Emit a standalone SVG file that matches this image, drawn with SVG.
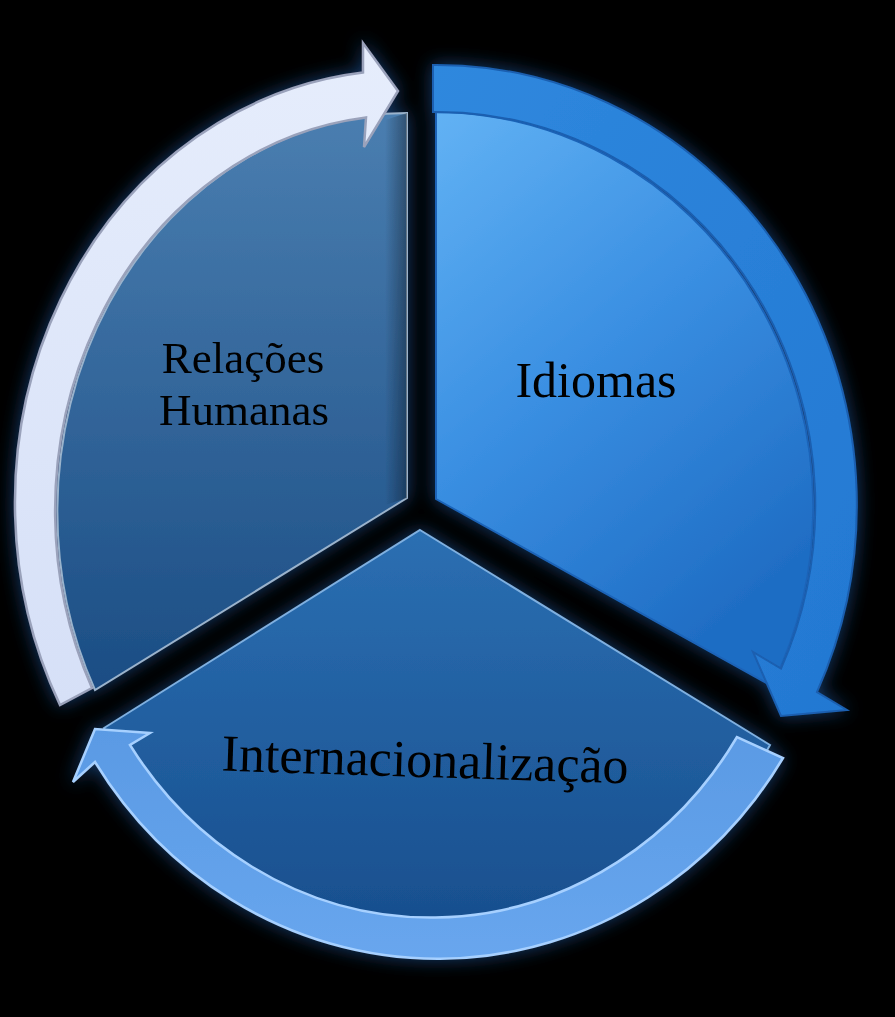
<svg xmlns="http://www.w3.org/2000/svg" width="895" height="1017" viewBox="0 0 895 1017">
<defs>
<linearGradient id="g1" x1="0" y1="0" x2="0.55" y2="1">
<stop offset="0" stop-color="#62b2f4"/>
<stop offset="0.5" stop-color="#3a8fe2"/>
<stop offset="1" stop-color="#1f6dc4"/>
</linearGradient>
<linearGradient id="g2" x1="0" y1="0" x2="0" y2="1">
<stop offset="0" stop-color="#4a7eb0"/>
<stop offset="1" stop-color="#1b4d84"/>
</linearGradient>
<linearGradient id="g2side" x1="0" y1="0" x2="1" y2="0">
<stop offset="0" stop-color="#000" stop-opacity="0"/>
<stop offset="1" stop-color="#000" stop-opacity="0.35"/>
</linearGradient>
<linearGradient id="g3" x1="0" y1="0" x2="0" y2="1">
<stop offset="0" stop-color="#2b6fb2"/>
<stop offset="1" stop-color="#174d8c"/>
</linearGradient>
<linearGradient id="b1" x1="0" y1="0" x2="1" y2="1">
<stop offset="0" stop-color="#2f88de"/>
<stop offset="1" stop-color="#2378d2"/>
</linearGradient>
<linearGradient id="b2" x1="0" y1="0" x2="0" y2="1">
<stop offset="0" stop-color="#e6edfc"/>
<stop offset="1" stop-color="#d6e0f7"/>
</linearGradient>
<linearGradient id="b3" x1="0" y1="0" x2="0" y2="1">
<stop offset="0" stop-color="#5a9ae4"/>
<stop offset="1" stop-color="#68a6ee"/>
</linearGradient>
<filter id="glow" x="-10%" y="-10%" width="120%" height="120%">
<feGaussianBlur in="SourceAlpha" stdDeviation="9" result="b"/>
<feFlood flood-color="#2a78d8" flood-opacity="0.5"/>
<feComposite in2="b" operator="in" result="g"/>
<feMerge><feMergeNode in="g"/><feMergeNode in="SourceGraphic"/></feMerge>
</filter>
<style>
.lbl{font-family:"Liberation Serif","DejaVu Serif",serif;fill:#000;text-anchor:middle}
.w1{fill:url(#g1);stroke:#1b64b8;stroke-width:2}
.w2{fill:url(#g2);stroke:#9ab3cc;stroke-width:2}
.w3{fill:url(#g3);stroke:#7fb0e0;stroke-width:2}
.a1{fill:url(#b1);stroke:#1a5fb0;stroke-width:2}
.a2{fill:url(#b2);stroke:#9aa2bb;stroke-width:2.5}
.a3{fill:url(#b3);stroke:#a6d0ff;stroke-width:2.5}
</style>
</defs>
<rect width="895" height="1017" fill="#000"/>
<g filter="url(#glow)">
<g id="node-idiomas">
<path class="w1" d="M436,499 L436,112 A380 395 0 0 1 772,686 Z"/>
<text class="lbl" x="596" y="397" font-size="50">Idiomas</text>
</g>
<g id="node-relacoes">
<path class="w2" d="M407,498 L407,113 A352 398 0 0 0 95,690 Z"/>
<path d="M385,120 L407,113 L407,498 L385,505 Z" fill="url(#g2side)"/>
<text class="lbl" x="243" y="373" font-size="45">Relações</text>
<text class="lbl" x="244" y="425" font-size="45">Humanas</text>
</g>
<g id="node-internacionalizacao">
<path class="w3" d="M420,530 L770,745 A380 405 0 0 1 104,728 Z"/>
<text class="lbl" x="425" y="777" font-size="52" transform="rotate(1.8 425 765)">Internacionalização</text>
</g>
<g id="connectors">
<path class="a1" d="M433,65 A420 440 0 0 1 817,692 L847,710 L781,716 L753,652 L781,668.5 A378 393 0 0 0 433,112 Z"/>
<path class="a2" d="M60,705 A390 433 0 0 1 363,72.5 L363,43 L398,91 L364,147 L366,117.5 A350 396 0 0 0 92,688 Z"/>
<path class="a3" d="M783,758 A408 430 0 0 1 95,762 L73,782 L95,729 L150,733 L130,745 A362 388 0 0 0 737,737 Z"/>
</g>
</g>
</svg>
